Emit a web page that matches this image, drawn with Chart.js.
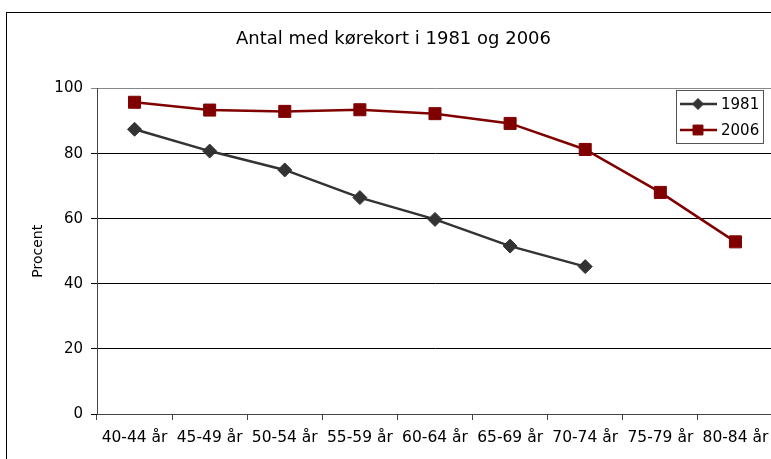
<!DOCTYPE html>
<html>
<head>
<meta charset="utf-8">
<script src="https://cdn.jsdelivr.net/npm/chart.js@4/dist/chart.umd.min.js"></script>
<style>
  html, body { margin: 0; padding: 0; background: #fff; }
  #wrap { width: 771px; height: 459px; overflow: hidden; position: relative; }
  canvas { display: block; }
</style>
</head>
<body>
<div id="wrap"><canvas id="chart" width="790" height="459"></canvas></div>
<script>
"use strict";

const ageGroups = ["40-44 år", "45-49 år", "50-54 år", "55-59 år", "60-64 år", "65-69 år", "70-74 år", "75-79 år", "80-84 år"];
const values1981 = [87.5, 80.8, 75.0, 66.5, 59.8, 51.6, 45.3, null, null];
const values2006 = [95.8, 93.4, 93.0, 93.5, 92.3, 89.3, 81.3, 68.1, 52.9];
const yTicks = [0, 20, 40, 60, 80, 100];

const FONT = "'DejaVu Sans', Verdana, sans-serif";
const color1981 = "#333333";
const color2006 = "#800000";

// outer frame of the chart object
const framePlugin = {
  id: "frame",
  beforeDraw(chart) {
    const ctx = chart.ctx;
    ctx.save();
    ctx.strokeStyle = "#000";
    ctx.lineWidth = 1;
    ctx.strokeRect(6.5, 12.5, chart.width + 20, chart.height + 20);
    ctx.restore();
  }
};

// boxed legend in the top right corner
const legendBoxPlugin = {
  id: "legendBox",
  afterDraw(chart) {
    const ctx = chart.ctx;
    const x = 676, y = 90, w = 87, h = 53;
    ctx.save();
    ctx.fillStyle = "#fff";
    ctx.fillRect(x, y, w, h);
    ctx.strokeStyle = "#555";
    ctx.lineWidth = 1;
    ctx.strokeRect(x + 0.5, y + 0.5, w, h);
    chart.data.datasets.forEach((ds, i) => {
      const ly = y + 14 + i * 26;
      ctx.strokeStyle = ds.borderColor;
      ctx.lineWidth = 2.5;
      ctx.beginPath();
      ctx.moveTo(x + 4, ly);
      ctx.lineTo(x + 41, ly);
      ctx.stroke();
      ctx.fillStyle = ds.borderColor;
      ctx.lineWidth = 1;
      Chart.helpers.drawPoint(ctx, {
        pointStyle: ds.pointStyle,
        radius: ds.pointRadius - 1.5,
        borderWidth: 1
      }, x + 22, ly);
      ctx.fillStyle = "#000";
      ctx.font = "15px " + FONT;
      ctx.textBaseline = "middle";
      ctx.fillText(ds.label, x + 45, ly + 1);
    });
    ctx.restore();
  }
};

new Chart(document.getElementById("chart"), {
  type: "line",
  data: {
    labels: ageGroups,
    datasets: [
      {
        label: "1981",
        data: values1981,
        borderColor: color1981,
        backgroundColor: color1981,
        borderWidth: 2.5,
        pointStyle: "rectRot",
        pointRadius: 7,
        pointBorderWidth: 1,
        pointBackgroundColor: color1981,
        pointBorderColor: color1981,
        tension: 0,
        spanGaps: false
      },
      {
        label: "2006",
        data: values2006,
        borderColor: color2006,
        backgroundColor: color2006,
        borderWidth: 2.5,
        pointStyle: "rect",
        pointRadius: 8.5,
        pointBorderWidth: 1,
        pointBackgroundColor: color2006,
        pointBorderColor: color2006,
        tension: 0
      }
    ]
  },
  options: {
    responsive: false,
    animation: false,
    layout: { padding: { left: 14, right: 17, top: 0, bottom: 0 } },
    scales: {
      x: {
        offset: true,
        grid: {
          offset: true,
          drawOnChartArea: false,
          drawTicks: true,
          tickLength: 6,
          color: "#444"
        },
        border: { color: "#444", width: 1 },
        ticks: {
          color: "#000",
          font: { family: FONT, size: 15.5 },
          maxRotation: 0,
          autoSkip: false,
          padding: 9
        },
        afterFit(scale) { scale.height = 45; }
      },
      y: {
        min: 0,
        max: 100,
        afterBuildTicks(scale) { scale.ticks = yTicks.map((v) => ({ value: v })); },
        grid: {
          color: (c) => (c.tick && c.tick.value === 100 ? "#888" : "#000"),
          lineWidth: 1,
          drawTicks: true,
          tickLength: 6
        },
        border: { color: "#444", width: 1 },
        ticks: {
          color: "#000",
          font: { family: FONT, size: 15 },
          padding: 8
        },
        title: {
          display: true,
          text: "Procent",
          color: "#000",
          font: { family: FONT, size: 14 },
          padding: { top: 16, bottom: 0 }
        },
        afterFit(scale) { scale.width = 83; }
      }
    },
    plugins: {
      legend: { display: false },
      tooltip: { enabled: false },
      title: {
        display: true,
        text: "Antal med kørekort i 1981 og 2006",
        color: "#000",
        font: { family: FONT, size: 18, weight: "normal" },
        padding: { top: 29, bottom: 38 }
      }
    }
  },
  plugins: [framePlugin, legendBoxPlugin]
});
</script>
</body>
</html>
